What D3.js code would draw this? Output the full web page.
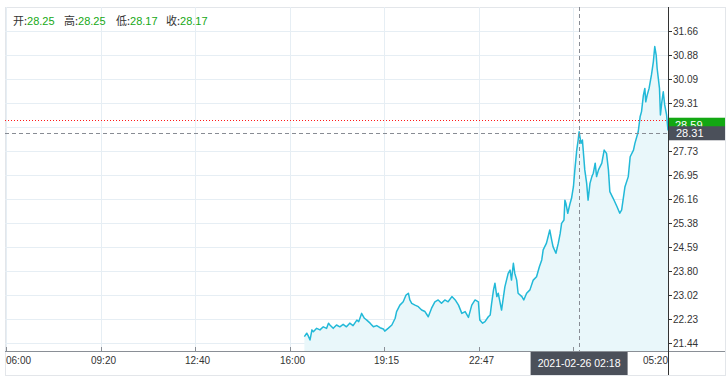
<!DOCTYPE html>
<html><head><meta charset="utf-8">
<script src="https://cdn.jsdelivr.net/npm/d3@7/dist/d3.min.js"></script>
<style>body{margin:0;background:#fff;overflow:hidden}</style>
</head><body><svg id="c" width="728" height="380"></svg>
<script>
const xTickSlots = [0, 200, 400, 600, 800, 1000, 1200, 1400];
const xTickLabels = ["06:00", "09:20", "12:40", "16:00", "19:15", "22:47", "02:18", "05:20"];
const yTicks = [21.44, 22.23, 23.02, 23.80, 24.59, 25.38, 26.16, 26.95, 27.73, 28.52, 29.31, 30.09, 30.88, 31.66];
const slots = [631,636,639,643,647,650,657,664,671,678,682,685,692,699,706,713,720,727,734,742,746,752,758,763,770,777,784,791,798,801,808,816,823,826,833,840,846,851,854,858,865,872,879,886,893,900,907,914,921,928,935,943,950,957,964,971,978,985,992,999,1002,1008,1013,1020,1024,1027,1031,1034,1038,1041,1048,1055,1062,1066,1069,1073,1076,1080,1083,1091,1095,1101,1108,1115,1122,1128,1133,1136,1143,1150,1154,1157,1163,1168,1172,1175,1180,1182,1184,1188,1193,1196,1200,1203,1207,1210,1212,1216,1219,1224,1228,1231,1235,1239,1242,1246,1249,1253,1260,1265,1270,1274,1277,1284,1292,1298,1302,1309,1316,1320,1327,1330,1337,1341,1344,1348,1351,1353,1356,1360,1365,1369,1372,1375,1377,1382,1384,1387,1390,1393,1397,1400];
const prices = [21.65,21.76,21.68,21.54,21.87,21.81,21.92,21.87,21.97,21.92,22.09,22.03,21.92,22.03,21.97,22.05,21.97,22.09,22.01,22.19,22.14,22.41,22.25,22.19,22.09,21.97,22.01,21.94,21.90,21.83,21.92,22.03,22.25,22.47,22.68,22.79,23.01,23.07,22.85,22.74,22.68,22.63,22.52,22.47,22.30,22.58,22.79,22.85,22.74,22.85,22.79,22.96,22.85,22.68,22.41,22.47,22.28,22.68,22.85,22.79,22.19,22.09,22.14,22.30,22.36,22.74,23.18,23.40,22.96,23.07,22.52,23.28,23.72,23.83,23.50,24.05,23.72,23.50,23.07,22.96,22.85,23.07,23.18,23.50,23.61,23.94,24.16,24.49,24.71,25.14,24.81,24.59,24.38,24.71,25.03,25.36,25.47,26.12,26.02,25.69,26.02,26.18,26.56,27.11,27.76,28.09,28.36,27.98,28.09,27.11,26.67,26.12,26.67,26.89,27.00,27.33,26.89,27.11,27.33,27.76,27.65,27.11,26.40,26.18,25.91,25.69,25.80,26.56,26.89,27.54,27.76,27.98,28.36,28.85,29.02,29.56,29.78,29.34,29.56,29.78,30.22,30.65,31.15,30.87,30.44,29.78,28.91,29.34,29.67,29.24,28.91,28.40];
const ohlcLabels = ["开", "高", "低", "收"];
const ohlcValues = ["28.25", "28.25", "28.17", "28.17"];
const lastPrice = 28.59;
const refPrice = 28.74;
const crossSlot = 1212;
const crossPrice = 28.31;
const crossLabel = "2021-02-26 02:18";

const svg = d3.select("#c");
const L = 5, T = 7, R = 668, B = 351, OR = 725, OB = 375;
const x = d3.scaleLinear().domain([0, 1400]).range([6, R]);
const y = d3.scaleLinear().domain([21.44, 31.66]).range([343, 31]);
const font = "'Liberation Sans', Arial, sans-serif";
const cjk = "'Noto Sans CJK SC', 'Liberation Sans', sans-serif";

// outer border
svg.append("rect").attr("x", L + 0.5).attr("y", T + 0.5).attr("width", OR - L).attr("height", OB - T)
  .attr("fill", "none").attr("stroke", "#e3e6ea");

// grid
const grid = svg.append("g").attr("stroke", "#e6eef4").attr("stroke-width", 1);
yTicks.forEach(v => grid.append("line").attr("x1", L).attr("x2", R).attr("y1", Math.round(y(v)) + 0.5).attr("y2", Math.round(y(v)) + 0.5));
xTickSlots.forEach(s => grid.append("line").attr("x1", Math.round(x(s)) + 0.5).attr("x2", Math.round(x(s)) + 0.5).attr("y1", T).attr("y2", B));

const data = slots.map((s, i) => ({s, p: prices[i]}));
svg.append("clipPath").attr("id", "clip").append("rect").attr("x", L).attr("y", T).attr("width", R - L).attr("height", B - T);
const plot = svg.append("g").attr("clip-path", "url(#clip)");
plot.append("path").datum(data)
  .attr("d", d3.area().x(d => x(d.s)).y0(B).y1(d => y(d.p)))
  .attr("fill", "#e9f7fa");
plot.append("path").datum(data)
  .attr("d", d3.line().x(d => x(d.s)).y(d => y(d.p)))
  .attr("fill", "none").attr("stroke", "#22b9d8").attr("stroke-width", 1.5).attr("stroke-linejoin", "round");

// reference red dotted line
svg.append("line").attr("x1", L).attr("x2", R).attr("y1", Math.round(y(refPrice)) + 0.5).attr("y2", Math.round(y(refPrice)) + 0.5)
  .attr("stroke", "#ff1a1a").attr("stroke-dasharray", "1,2");

// crosshair
svg.append("line").attr("x1", Math.round(x(crossSlot)) + 0.5).attr("x2", Math.round(x(crossSlot)) + 0.5).attr("y1", T).attr("y2", B)
  .attr("stroke", "#888c94").attr("stroke-dasharray", "4,3");
svg.append("line").attr("x1", L).attr("x2", R).attr("y1", Math.round(y(crossPrice)) + 0.5).attr("y2", Math.round(y(crossPrice)) + 0.5)
  .attr("stroke", "#888c94").attr("stroke-dasharray", "4,3");

// x axis
const cx = x(crossSlot);
const boxHalf = 48.5;
svg.append("line").attr("x1", L).attr("x2", OR).attr("y1", B + 0.5).attr("y2", B + 0.5).attr("stroke", "#8a8f96");
xTickSlots.forEach((s, i) => {
  const px = Math.round(x(s)) + 0.5;
  svg.append("line").attr("x1", px).attr("x2", px).attr("y1", B - 4).attr("y2", B).attr("stroke", "#8a8f96");
  // label hidden under crosshair time box in the reference
  if (Math.abs(px - cx) < boxHalf + 12) return;
  const anchor = i === 0 ? "start" : (i === xTickSlots.length - 1 ? "end" : "middle");
  svg.append("text").attr("x", i === 0 ? px - 0.5 : (i === xTickSlots.length - 1 ? px - 0.5 : px + 2)).attr("y", 363.5)
    .attr("text-anchor", anchor).attr("font-family", font).attr("font-size", 10).attr("fill", "#333")
    .text(xTickLabels[i]);
});

// y axis
const ly = y(lastPrice);
const cy = y(crossPrice);
svg.append("line").attr("x1", R + 0.5).attr("x2", R + 0.5).attr("y1", T).attr("y2", OB).attr("stroke", "#333");
yTicks.forEach(v => {
  const py = Math.round(y(v)) + 0.5;
  svg.append("line").attr("x1", R).attr("x2", R + 4).attr("y1", py).attr("y2", py).attr("stroke", "#333");
  // label hidden under price boxes in the reference
  if (Math.abs(py - ly) < 10 || Math.abs(py - cy) < 10) return;
  svg.append("text").attr("x", 673).attr("y", py + 3.5).attr("font-family", font).attr("font-size", 10).attr("fill", "#333")
    .text(v.toFixed(2));
});

// last price label (green)
svg.append("rect").attr("x", R + 1).attr("y", ly - 7).attr("width", OR - R - 1).attr("height", 14).attr("fill", "#13a813");
svg.append("text").attr("x", 675).attr("y", ly + 4).attr("font-family", font).attr("font-size", 11).attr("fill", "#fff").text(lastPrice.toFixed(2));

// crosshair price label
svg.append("rect").attr("x", R + 1).attr("y", cy - 7).attr("width", OR - R - 1).attr("height", 14).attr("fill", "#4b505a");
svg.append("text").attr("x", 676).attr("y", cy + 4).attr("font-family", font).attr("font-size", 11).attr("fill", "#fff").text(crossPrice.toFixed(2));

// crosshair time label
svg.append("rect").attr("x", cx - boxHalf).attr("y", B + 1).attr("width", boxHalf * 2).attr("height", OB - B - 1).attr("fill", "#4b505a");
svg.append("text").attr("x", cx).attr("y", 367).attr("text-anchor", "middle").attr("font-family", font).attr("font-size", 10.5).attr("fill", "#fff").text(crossLabel);

// legend
const legendX = [13, 64, 116, 166];
ohlcLabels.forEach((lab, i) => {
  const t = svg.append("text").attr("x", legendX[i]).attr("y", 25).attr("font-size", 11);
  t.append("tspan").attr("font-family", cjk).attr("fill", "#333").text(lab + ":");
  t.append("tspan").attr("font-family", font).attr("fill", "#16a816").text(ohlcValues[i]);
});
</script></body></html>
